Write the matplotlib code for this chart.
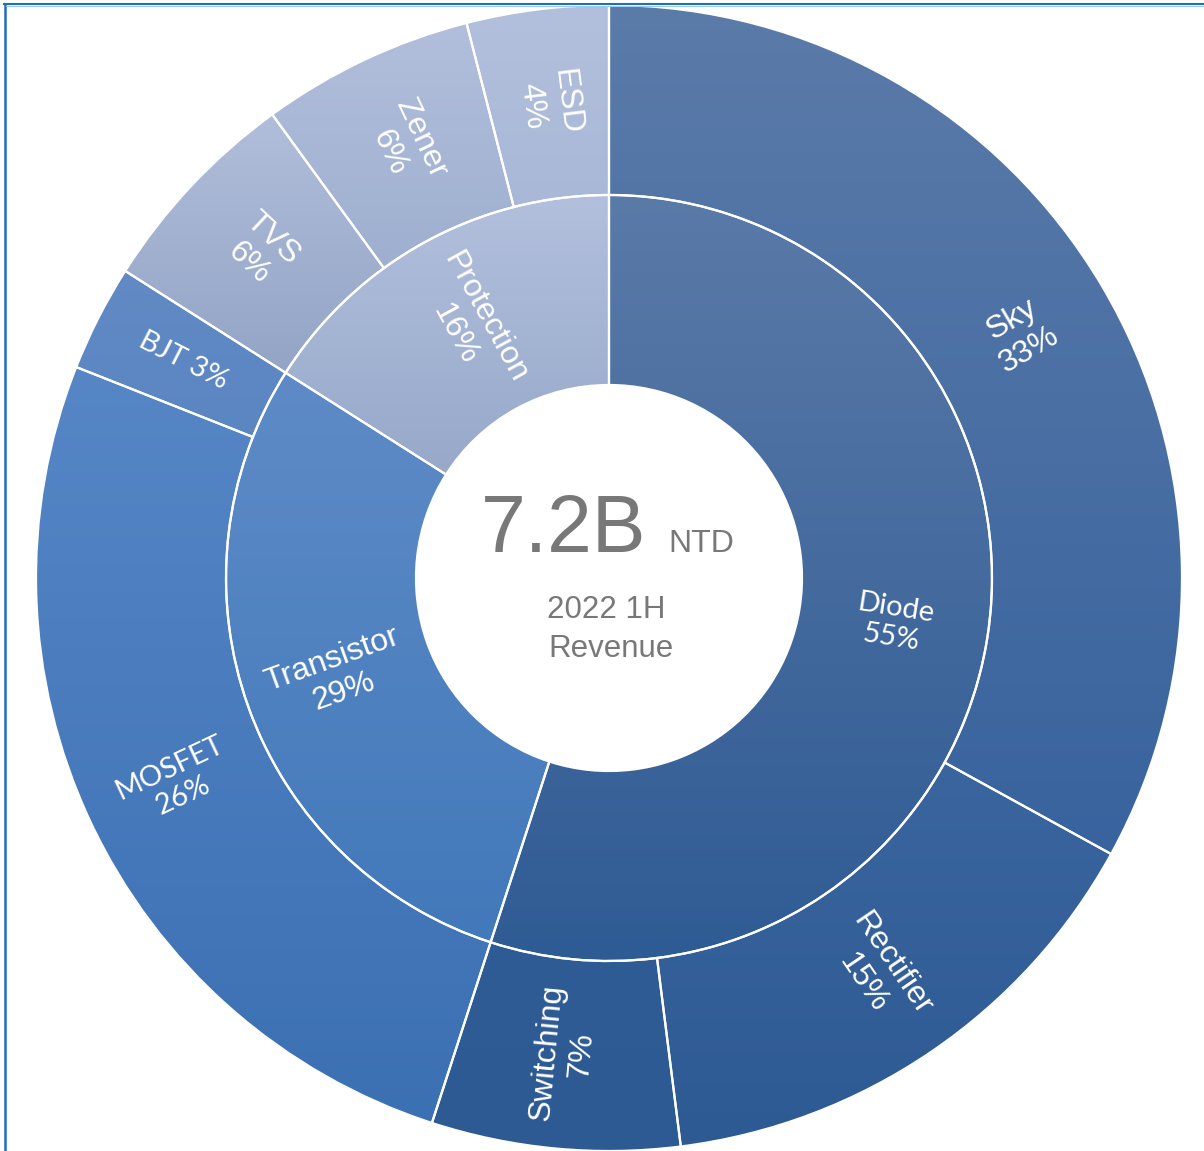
import numpy as np
import matplotlib
matplotlib.use('Agg')
import matplotlib.pyplot as plt
from matplotlib.colors import to_rgb
from matplotlib.lines import Line2D

# inner ring (groups) and outer ring (products), share of revenue in %
inner_labels = ['Diode', 'Transistor', 'Protection']
inner_values = [55, 29, 16]
inner_top = ['#5a7aa8', '#5e8bc7', '#b2c0dd']
inner_bottom = ['#2f5b94', '#4279ba', '#97a8c9']

outer_labels = ['Sky', 'Rectifier', 'Switching', 'MOSFET', 'BJT', 'TVS', 'Zener', 'ESD']
outer_values = [33, 15, 7, 26, 3, 6, 6, 4]
outer_top = ['#5b7ba9', '#3a659f', '#305c96', '#5686c6', '#628ac5', '#b1bedb', '#b2bfdc', '#b3c0dd']
outer_bottom = ['#38639e', '#2e5a93', '#2e5a93', '#3b70b3', '#5a86c2', '#93a4c5', '#9eafcf', '#a8b8d6']

# labels drawn in a Calibri-like face, the rest Arial-like
calibri_like = ['Diode', 'MOSFET', 'BJT']

total_text = '7.2B'
unit_text = 'NTD'
sub_text = '2022 1H\nRevenue'

W, H = 1204, 1151
cx, cy = 609, 578          # pixel centre of the rings
r_outer, r_mid, r_hole = 573, 383, 193

fig = plt.figure(figsize=(W / 100, H / 100), dpi=100)
ax = fig.add_axes([0, 0, 1, 1])


def fill_gradient(wedge, top, bottom):
    """ vertical gradient clipped to a wedge """
    ext = wedge.get_path().get_extents()
    t = np.linspace(0, 1, 256)[:, None]
    c0 = np.array(to_rgb(bottom))
    c1 = np.array(to_rgb(top))
    grad = (c0 + (c1 - c0) * t)[:, None, :]
    im = ax.imshow(grad, extent=(ext.x0, ext.x1, ext.y0, ext.y1), origin='lower',
                   aspect='auto', interpolation='bilinear', zorder=1)
    im.set_clip_path(wedge)
    wedge.set_facecolor('none')
    wedge.set_zorder(2)


def add_labels(values, labels, radius, sep):
    """ put labels radially in the middle of each wedge """
    total = float(sum(values))
    start = 0.0
    for v, lab, s in zip(values, labels, sep):
        mid = (start + v / 2.0) / total * 360.0
        start += v
        theta = np.deg2rad(90 - mid)
        rot = 90 - mid
        while rot < -90:
            rot += 180
        while rot > 90:
            rot -= 180
        if lab in calibri_like:
            fam = ['Lato', 'DejaVu Sans']
            size = 21
        else:
            fam = ['Liberation Sans', 'DejaVu Sans']
            size = 23
        ax.text(radius * np.cos(theta), radius * np.sin(theta),
                lab + s + '%d%%' % v, rotation=rot, rotation_mode='anchor',
                ha='center', va='center', multialignment='center',
                color='white', fontsize=size, family=fam, linespacing=1.2, zorder=4)


edge = dict(edgecolor='white', linewidth=1.6)
outer_wedges, _ = ax.pie(outer_values, radius=r_outer, startangle=90, counterclock=False,
                         wedgeprops=dict(width=r_outer - r_mid, **edge))
inner_wedges, _ = ax.pie(inner_values, radius=r_mid, startangle=90, counterclock=False,
                         wedgeprops=dict(width=r_mid - r_hole, **edge))

for w, t, b in zip(outer_wedges, outer_top, outer_bottom):
    fill_gradient(w, t, b)
for w, t, b in zip(inner_wedges, inner_top, inner_bottom):
    fill_gradient(w, t, b)

add_labels(outer_values, outer_labels, (r_outer + r_mid) / 2.0,
           ['\n', '\n', '\n', '\n', ' ', '\n', '\n', '\n'])
add_labels(inner_values, inner_labels, (r_mid + r_hole) / 2.0, ['\n'] * 3)

# centre text
grey = '#787878'
ax.text(37, 26, total_text, ha='right', va='baseline', fontsize=58,
        family='Liberation Sans', color=grey, zorder=5)
ax.text(59, 26, unit_text, ha='left', va='baseline', fontsize=23,
        family='Liberation Sans', color=grey, zorder=5)
ax.text(-3, -40, sub_text.split('\n')[0], ha='center', va='baseline', fontsize=22.5,
        family='Liberation Sans', color=grey, zorder=5)
ax.text(2, -79, sub_text.split('\n')[1], ha='center', va='baseline', fontsize=22.5,
        family='Liberation Sans', color=grey, zorder=5)

ax.set_xlim(-cx, W - cx)
ax.set_ylim(-(H - cy), cy)
ax.set_aspect('auto')
ax.axis('off')

# frame lines on the top and left edge
fig.add_artist(Line2D([4.5 / W, 4.5 / W], [0, 1 - 4 / H], transform=fig.transFigure,
                      color='#1f70bb', linewidth=1.8))
fig.add_artist(Line2D([4 / W, 1], [1 - 4 / H, 1 - 4 / H], transform=fig.transFigure,
                      color='#1f70bb', linewidth=1.5))
fig.add_artist(Line2D([6 / W, 1], [1 - 5.5 / H, 1 - 5.5 / H], transform=fig.transFigure,
                      color='#9ccbee', linewidth=0.8))

fig.savefig('out.png', dpi=100)
